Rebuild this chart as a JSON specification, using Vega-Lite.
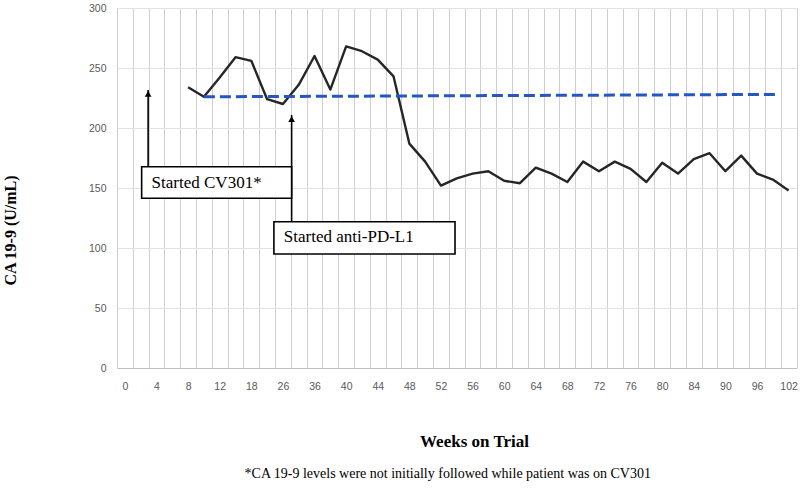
{
  "$schema": "https://vega.github.io/schema/vega-lite/v6.json",
  "width": 679.5,
  "height": 360,
  "autosize": {"type": "none"},
  "padding": {"left": 117, "top": 8, "right": 3.5, "bottom": 122},
  "background": "white",
  "config": {
    "view": {"stroke": null},
    "font": "Liberation Serif"
  },
  "title": {
    "text": "*CA 19-9 levels were not initially followed while patient was on CV301",
    "orient": "bottom",
    "anchor": "middle",
    "frame": "group",
    "dx": -9,
    "offset": 18,
    "font": "Liberation Serif",
    "fontSize": 14,
    "fontWeight": "normal",
    "color": "black"
  },
  "datasets": {
    "ca": [
      {"idx": 4, "week": 8, "ca199": 234},
      {"idx": 5, "week": 10, "ca199": 226},
      {"idx": 6, "week": 12, "ca199": 242},
      {"idx": 7, "week": 15, "ca199": 259},
      {"idx": 8, "week": 18, "ca199": 256},
      {"idx": 9, "week": 22, "ca199": 224},
      {"idx": 10, "week": 26, "ca199": 220},
      {"idx": 11, "week": 30, "ca199": 236},
      {"idx": 12, "week": 36, "ca199": 260},
      {"idx": 13, "week": 38, "ca199": 232},
      {"idx": 14, "week": 40, "ca199": 268},
      {"idx": 15, "week": 42, "ca199": 264},
      {"idx": 16, "week": 44, "ca199": 257},
      {"idx": 17, "week": 46, "ca199": 243},
      {"idx": 18, "week": 48, "ca199": 187},
      {"idx": 19, "week": 50, "ca199": 172},
      {"idx": 20, "week": 52, "ca199": 152},
      {"idx": 21, "week": 54, "ca199": 158},
      {"idx": 22, "week": 56, "ca199": 162},
      {"idx": 23, "week": 58, "ca199": 164},
      {"idx": 24, "week": 60, "ca199": 156},
      {"idx": 25, "week": 62, "ca199": 154},
      {"idx": 26, "week": 64, "ca199": 167},
      {"idx": 27, "week": 66, "ca199": 162},
      {"idx": 28, "week": 68, "ca199": 155},
      {"idx": 29, "week": 70, "ca199": 172},
      {"idx": 30, "week": 72, "ca199": 164},
      {"idx": 31, "week": 74, "ca199": 172},
      {"idx": 32, "week": 76, "ca199": 166},
      {"idx": 33, "week": 78, "ca199": 155},
      {"idx": 34, "week": 80, "ca199": 171},
      {"idx": 35, "week": 82, "ca199": 162},
      {"idx": 36, "week": 84, "ca199": 174},
      {"idx": 37, "week": 87, "ca199": 179},
      {"idx": 38, "week": 90, "ca199": 164},
      {"idx": 39, "week": 93, "ca199": 177},
      {"idx": 40, "week": 96, "ca199": 162},
      {"idx": 41, "week": 99, "ca199": 157},
      {"idx": 42, "week": 102, "ca199": 148}
    ],
    "baseline": [
      {"idx": 5, "ca199": 226},
      {"idx": 41.4, "ca199": 228}
    ],
    "arrows": [
      {"x": 1.47, "from": 167.75, "tip": 231.7},
      {"x": 10.55, "from": 121.9, "tip": 210.8}
    ],
    "boxes": [
      {"x": 1.06, "x2": 10.55, "y": 141.4, "y2": 167.75, "tx": 1.69, "ty": 153.8, "label": "Started CV301*"},
      {"x": 9.43, "x2": 20.89, "y": 95, "y2": 121.9, "tx": 10.06, "ty": 109.2, "label": "Started anti-PD-L1"}
    ]
  },
  "layer": [
    {
      "data": {"name": "ca"},
      "mark": {"type": "line", "color": "#262626", "strokeWidth": 2.4, "strokeJoin": "round"},
      "encoding": {
        "x": {
          "field": "idx",
          "type": "quantitative",
          "scale": {"domain": [-0.5, 42.5], "nice": false, "zero": false},
          "axis": {
            "title": "Weeks on Trial",
            "titleFont": "Liberation Serif",
            "titleFontSize": 17,
            "titleFontWeight": "bold",
            "titleColor": "black",
            "titleX": 357,
            "titleY": 73,
            "titleBaseline": "middle",
            "tickCount": 200,
            "values": [-0.5, 0.5, 1.5, 2.5, 3.5, 4.5, 5.5, 6.5, 7.5, 8.5, 9.5, 10.5, 11.5, 12.5, 13.5, 14.5, 15.5, 16.5, 17.5, 18.5, 19.5, 20.5, 21.5, 22.5, 23.5, 24.5, 25.5, 26.5, 27.5, 28.5, 29.5, 30.5, 31.5, 32.5, 33.5, 34.5, 35.5, 36.5, 37.5, 38.5, 39.5, 40.5, 41.5, 42.5],
            "labelExpr": "((datum.value + 0.5) % 2 == 0 && datum.value < 42) ? ['0','4','8','12','18','26','36','40','44','48','52','56','60','64','68','72','76','80','84','90','96','102'][(datum.value + 0.5) / 2] : ''",
            "labelOffset": 7.9,
            "labelFont": "Liberation Sans",
            "labelFontSize": 10.5,
            "labelColor": "#595959",
            "labelPadding": 13,
            "labelOverlap": false,
            "labelFlush": false,
            "ticks": false,
            "grid": true,
            "gridColor": "#cfcfcf",
            "gridWidth": 1,
            "domainColor": "#bfbfbf",
            "domainWidth": 1.2
          }
        },
        "y": {
          "field": "ca199",
          "type": "quantitative",
          "scale": {"domain": [0, 300], "nice": false},
          "axis": {
            "title": "CA 19-9 (U/mL)",
            "titleFont": "Liberation Serif",
            "titleFontSize": 16,
            "titleFontWeight": "bold",
            "titleColor": "black",
            "titleX": -107,
            "titleY": 222,
            "titleAngle": -90,
            "titleBaseline": "middle",
            "titleAlign": "center",
            "tickCount": 7,
            "values": [0, 50, 100, 150, 200, 250, 300],
            "labelFont": "Liberation Sans",
            "labelFontSize": 10.5,
            "labelColor": "#595959",
            "labelPadding": 11,
            "ticks": false,
            "domain": false,
            "grid": true,
            "gridColor": "#e3e3e3",
            "gridWidth": 1
          }
        }
      }
    },
    {
      "data": {"name": "baseline"},
      "mark": {"type": "line", "color": "#2456c4", "strokeWidth": 3, "strokeDash": [11, 5]},
      "encoding": {
        "x": {"field": "idx", "type": "quantitative"},
        "y": {"field": "ca199", "type": "quantitative"}
      }
    },
    {
      "data": {"name": "arrows"},
      "mark": {"type": "rule", "color": "black", "strokeWidth": 1.6},
      "encoding": {
        "x": {"field": "x", "type": "quantitative"},
        "y": {"field": "from", "type": "quantitative"},
        "y2": {"field": "tip"}
      }
    },
    {
      "data": {"name": "arrows"},
      "mark": {"type": "point", "shape": "triangle-up", "filled": true, "color": "black", "size": 45, "opacity": 1, "yOffset": 4},
      "encoding": {
        "x": {"field": "x", "type": "quantitative"},
        "y": {"field": "tip", "type": "quantitative"}
      }
    },
    {
      "data": {"name": "boxes"},
      "mark": {"type": "rect", "fill": "white", "stroke": "black", "strokeWidth": 1.6},
      "encoding": {
        "x": {"field": "x", "type": "quantitative"},
        "x2": {"field": "x2"},
        "y": {"field": "y", "type": "quantitative"},
        "y2": {"field": "y2"}
      }
    },
    {
      "data": {"name": "boxes"},
      "mark": {"type": "text", "align": "left", "baseline": "middle", "font": "Liberation Serif", "fontSize": 17, "color": "black"},
      "encoding": {
        "x": {"field": "tx", "type": "quantitative"},
        "y": {"field": "ty", "type": "quantitative"},
        "text": {"field": "label"}
      }
    }
  ]
}
